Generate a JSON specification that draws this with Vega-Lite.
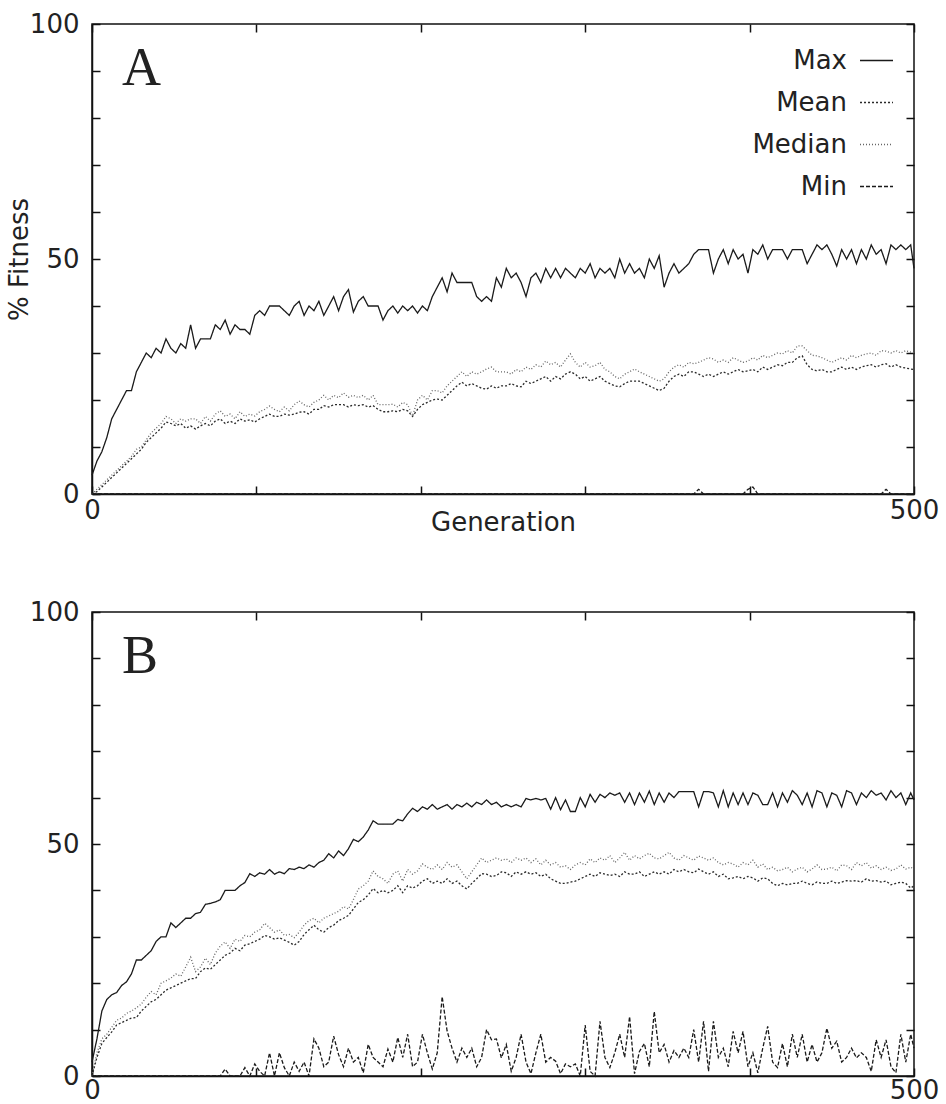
{
"$schema": "https://vega.github.io/schema/vega-lite/v6.json",
"background": "white",
"padding": {"left": 5, "top": 10, "right": 5, "bottom": 0},
"spacing": 62,
"config": {
  "font": "DejaVu Sans",
  "view": {"stroke": "#111", "strokeWidth": 1.5},
  "axis": {"grid": false, "domainColor": "#111", "domainWidth": 1.5, "tickColor": "#111", "tickWidth": 1.5, "tickSize": -8,
    "labelFont": "DejaVu Sans", "labelFontSize": 26, "labelColor": "#222", "labelFlush": false, "labelOverlap": false,
    "titleFont": "DejaVu Sans", "titleFontSize": 26, "titleFontWeight": "normal", "titleColor": "#222"},
  "title": {"anchor": "start", "frame": "group", "font": "Liberation Serif", "fontSize": 54, "fontWeight": "normal", "color": "#222", "baseline": "alphabetic", "offset": 0, "dx": 30, "dy": 89}
},
"datasets": {
"a": [
{"g":0,"Max":4,"Mean":0,"Median":0,"Min":0},
{"g":3,"Max":7,"Mean":0.5,"Median":1,"Min":0},
{"g":6,"Max":9,"Mean":1.5,"Median":2,"Min":0},
{"g":9,"Max":12,"Mean":2.5,"Median":3,"Min":0},
{"g":12,"Max":16,"Mean":3.5,"Median":4,"Min":0},
{"g":15,"Max":18,"Mean":4.5,"Median":5,"Min":0},
{"g":18,"Max":20,"Mean":5.5,"Median":6,"Min":0},
{"g":21,"Max":22,"Mean":6.5,"Median":7,"Min":0},
{"g":24,"Max":22,"Mean":7.5,"Median":8,"Min":0},
{"g":27,"Max":26,"Mean":8.5,"Median":9.5,"Min":0},
{"g":30,"Max":28,"Mean":9.5,"Median":10,"Min":0},
{"g":33,"Max":30,"Mean":11,"Median":11.5,"Min":0},
{"g":36,"Max":29,"Mean":12,"Median":13,"Min":0},
{"g":39,"Max":31,"Mean":13,"Median":14,"Min":0},
{"g":42,"Max":30,"Mean":14,"Median":15,"Min":0},
{"g":45,"Max":33,"Mean":15.3,"Median":16.5,"Min":0},
{"g":48,"Max":31,"Mean":15,"Median":16,"Min":0},
{"g":51,"Max":30,"Mean":14.5,"Median":15,"Min":0},
{"g":54,"Max":32,"Mean":15,"Median":16,"Min":0},
{"g":57,"Max":31,"Mean":14,"Median":15.5,"Min":0},
{"g":60,"Max":36,"Mean":14.5,"Median":16,"Min":0},
{"g":63,"Max":31,"Mean":13.8,"Median":16,"Min":0},
{"g":66,"Max":33,"Mean":14.5,"Median":15,"Min":0},
{"g":69,"Max":33,"Mean":15,"Median":16.5,"Min":0},
{"g":72,"Max":33,"Mean":14.5,"Median":15.5,"Min":0},
{"g":75,"Max":36,"Mean":15.5,"Median":17,"Min":0},
{"g":78,"Max":35,"Mean":16,"Median":17.7,"Min":0},
{"g":81,"Max":37,"Mean":15,"Median":16.5,"Min":0},
{"g":84,"Max":34,"Mean":15.5,"Median":17,"Min":0},
{"g":87,"Max":36,"Mean":15,"Median":16,"Min":0},
{"g":90,"Max":35,"Mean":16,"Median":17.5,"Min":0},
{"g":93,"Max":35,"Mean":15.5,"Median":16.5,"Min":0},
{"g":96,"Max":34,"Mean":15.8,"Median":17,"Min":0},
{"g":99,"Max":38,"Mean":15.3,"Median":16.6,"Min":0},
{"g":102,"Max":39,"Mean":16,"Median":17.5,"Min":0},
{"g":105,"Max":38,"Mean":16.5,"Median":18,"Min":0},
{"g":108,"Max":40,"Mean":17,"Median":18.7,"Min":0},
{"g":111,"Max":40,"Mean":16.5,"Median":18,"Min":0},
{"g":114,"Max":40,"Mean":16.5,"Median":17.5,"Min":0},
{"g":117,"Max":39,"Mean":17,"Median":18.5,"Min":0},
{"g":120,"Max":38,"Mean":16.8,"Median":17.7,"Min":0},
{"g":123,"Max":40,"Mean":17,"Median":19,"Min":0},
{"g":126,"Max":41,"Mean":17.4,"Median":19.8,"Min":0},
{"g":129,"Max":38,"Mean":17.5,"Median":19,"Min":0},
{"g":132,"Max":40,"Mean":17,"Median":18.5,"Min":0},
{"g":135,"Max":39,"Mean":18,"Median":19.5,"Min":0},
{"g":138,"Max":41,"Mean":18,"Median":20,"Min":0},
{"g":141,"Max":38,"Mean":18.8,"Median":21,"Min":0},
{"g":144,"Max":40,"Mean":18.5,"Median":20,"Min":0},
{"g":147,"Max":42,"Mean":19,"Median":21,"Min":0},
{"g":150,"Max":39,"Mean":19,"Median":20.5,"Min":0},
{"g":153,"Max":42,"Mean":19,"Median":21.5,"Min":0},
{"g":156,"Max":43.5,"Mean":18.5,"Median":20.6,"Min":0},
{"g":159,"Max":38.7,"Mean":19,"Median":21,"Min":0},
{"g":162,"Max":41,"Mean":18.8,"Median":20.5,"Min":0},
{"g":165,"Max":42,"Mean":19,"Median":21,"Min":0},
{"g":168,"Max":40,"Mean":18.5,"Median":20,"Min":0},
{"g":171,"Max":40,"Mean":18.8,"Median":21,"Min":0},
{"g":174,"Max":40,"Mean":18,"Median":19,"Min":0},
{"g":177,"Max":37,"Mean":17.5,"Median":19,"Min":0},
{"g":180,"Max":39,"Mean":17.5,"Median":19,"Min":0},
{"g":183,"Max":40,"Mean":17.7,"Median":19.1,"Min":0},
{"g":186,"Max":38.5,"Mean":17.5,"Median":18.5,"Min":0},
{"g":189,"Max":40,"Mean":18,"Median":19.5,"Min":0},
{"g":192,"Max":39,"Mean":17.7,"Median":19,"Min":0},
{"g":195,"Max":40,"Mean":16.5,"Median":16.6,"Min":0},
{"g":198,"Max":38.5,"Mean":18,"Median":20,"Min":0},
{"g":201,"Max":40,"Mean":19,"Median":21,"Min":0},
{"g":204,"Max":39,"Mean":19.5,"Median":20,"Min":0},
{"g":207,"Max":42,"Mean":20,"Median":22,"Min":0},
{"g":210,"Max":44,"Mean":20.2,"Median":22,"Min":0},
{"g":213,"Max":46,"Mean":20,"Median":21.5,"Min":0},
{"g":216,"Max":43,"Mean":21,"Median":23,"Min":0},
{"g":219,"Max":47,"Mean":22,"Median":24,"Min":0},
{"g":222,"Max":45,"Mean":23,"Median":25,"Min":0},
{"g":225,"Max":45,"Mean":23.8,"Median":26,"Min":0},
{"g":228,"Max":45,"Mean":23,"Median":25,"Min":0},
{"g":231,"Max":45,"Mean":23.5,"Median":26,"Min":0},
{"g":234,"Max":42,"Mean":23,"Median":25.5,"Min":0},
{"g":237,"Max":41,"Mean":22.5,"Median":26,"Min":0},
{"g":240,"Max":42,"Mean":22.3,"Median":26.6,"Min":0},
{"g":243,"Max":41,"Mean":23,"Median":27,"Min":0},
{"g":246,"Max":46,"Mean":22.5,"Median":26,"Min":0},
{"g":249,"Max":44,"Mean":23,"Median":26,"Min":0},
{"g":252,"Max":48,"Mean":23,"Median":26,"Min":0},
{"g":255,"Max":46,"Mean":23.5,"Median":25.5,"Min":0},
{"g":258,"Max":47,"Mean":23,"Median":26.5,"Min":0},
{"g":261,"Max":45,"Mean":22.8,"Median":26,"Min":0},
{"g":264,"Max":42,"Mean":24,"Median":27,"Min":0},
{"g":267,"Max":46,"Mean":23.5,"Median":26.5,"Min":0},
{"g":270,"Max":47,"Mean":24,"Median":27.5,"Min":0},
{"g":273,"Max":45,"Mean":24.5,"Median":27,"Min":0},
{"g":276,"Max":48,"Mean":25,"Median":28.3,"Min":0},
{"g":279,"Max":46,"Mean":24,"Median":27.5,"Min":0},
{"g":282,"Max":48,"Mean":25,"Median":28,"Min":0},
{"g":285,"Max":46,"Mean":24.5,"Median":27,"Min":0},
{"g":288,"Max":48,"Mean":25.5,"Median":28.5,"Min":0},
{"g":291,"Max":47,"Mean":26,"Median":29.8,"Min":0},
{"g":294,"Max":46,"Mean":25.5,"Median":28,"Min":0},
{"g":297,"Max":48,"Mean":24.5,"Median":27,"Min":0},
{"g":300,"Max":47,"Mean":25,"Median":28,"Min":0},
{"g":303,"Max":49,"Mean":24,"Median":27,"Min":0},
{"g":306,"Max":46,"Mean":24.5,"Median":27.3,"Min":0},
{"g":309,"Max":48,"Mean":25,"Median":28,"Min":0},
{"g":312,"Max":47,"Mean":24,"Median":26.5,"Min":0},
{"g":315,"Max":48,"Mean":23.5,"Median":26,"Min":0},
{"g":318,"Max":46,"Mean":23,"Median":25,"Min":0},
{"g":321,"Max":50,"Mean":22.8,"Median":24.5,"Min":0},
{"g":324,"Max":47,"Mean":23.5,"Median":25.5,"Min":0},
{"g":327,"Max":49,"Mean":24,"Median":26,"Min":0},
{"g":330,"Max":47,"Mean":24,"Median":26.6,"Min":0},
{"g":333,"Max":48,"Mean":24,"Median":26,"Min":0},
{"g":336,"Max":46,"Mean":23.5,"Median":25.5,"Min":0},
{"g":339,"Max":50,"Mean":23,"Median":25,"Min":0},
{"g":342,"Max":48,"Mean":22.5,"Median":24.5,"Min":0},
{"g":345,"Max":50.7,"Mean":22,"Median":24,"Min":0},
{"g":348,"Max":44,"Mean":22.5,"Median":24.5,"Min":0},
{"g":351,"Max":47,"Mean":24,"Median":26,"Min":0},
{"g":354,"Max":49,"Mean":25,"Median":27,"Min":0},
{"g":357,"Max":47,"Mean":25.5,"Median":27.5,"Min":0},
{"g":360,"Max":48,"Mean":25,"Median":27,"Min":0},
{"g":363,"Max":49,"Mean":26,"Median":28,"Min":0},
{"g":366,"Max":51,"Mean":26,"Median":27.7,"Min":0},
{"g":369,"Max":52,"Mean":25.5,"Median":28,"Min":1},
{"g":372,"Max":52,"Mean":25,"Median":28.5,"Min":0},
{"g":375,"Max":52,"Mean":25.5,"Median":29,"Min":0},
{"g":378,"Max":47,"Mean":25,"Median":28.7,"Min":0},
{"g":381,"Max":50,"Mean":25.5,"Median":28,"Min":0},
{"g":384,"Max":52,"Mean":26,"Median":28.5,"Min":0},
{"g":387,"Max":49,"Mean":25.5,"Median":28,"Min":0},
{"g":390,"Max":52,"Mean":26,"Median":29,"Min":0},
{"g":393,"Max":50,"Mean":26.5,"Median":28.5,"Min":0},
{"g":396,"Max":51,"Mean":26,"Median":28,"Min":0},
{"g":399,"Max":47,"Mean":26.2,"Median":28.3,"Min":1},
{"g":402,"Max":52,"Mean":26.5,"Median":29,"Min":1.5},
{"g":405,"Max":51,"Mean":26,"Median":28.5,"Min":0},
{"g":408,"Max":53,"Mean":27,"Median":29.5,"Min":0},
{"g":411,"Max":50,"Mean":26.5,"Median":29,"Min":0},
{"g":414,"Max":52,"Mean":27,"Median":29.5,"Min":0},
{"g":417,"Max":52,"Mean":27.5,"Median":30,"Min":0},
{"g":420,"Max":52,"Mean":27.3,"Median":29.8,"Min":0},
{"g":423,"Max":50,"Mean":28,"Median":30.5,"Min":0},
{"g":426,"Max":52,"Mean":28,"Median":30,"Min":0},
{"g":429,"Max":52,"Mean":29,"Median":31.5,"Min":0},
{"g":432,"Max":52,"Mean":29.4,"Median":31.5,"Min":0},
{"g":435,"Max":49,"Mean":27.5,"Median":30.5,"Min":0},
{"g":438,"Max":51,"Mean":26.5,"Median":29.5,"Min":0},
{"g":441,"Max":53,"Mean":26.2,"Median":29.4,"Min":0},
{"g":444,"Max":52,"Mean":26.5,"Median":29,"Min":0},
{"g":447,"Max":53,"Mean":26,"Median":28.5,"Min":0},
{"g":450,"Max":51,"Mean":26,"Median":28,"Min":0},
{"g":453,"Max":48.5,"Mean":26.5,"Median":28.5,"Min":0},
{"g":456,"Max":52,"Mean":27,"Median":29,"Min":0},
{"g":459,"Max":50,"Mean":26.5,"Median":28.5,"Min":0},
{"g":462,"Max":52,"Mean":27,"Median":29.5,"Min":0},
{"g":465,"Max":49,"Mean":26.5,"Median":29,"Min":0},
{"g":468,"Max":52,"Mean":27,"Median":29.5,"Min":0},
{"g":471,"Max":50,"Mean":27.3,"Median":29.8,"Min":0},
{"g":474,"Max":53,"Mean":27.5,"Median":30,"Min":0},
{"g":477,"Max":51,"Mean":27,"Median":29.5,"Min":0},
{"g":480,"Max":52,"Mean":27.5,"Median":30.5,"Min":0},
{"g":483,"Max":49,"Mean":27.7,"Median":30.4,"Min":1},
{"g":486,"Max":53,"Mean":27,"Median":30,"Min":0},
{"g":489,"Max":52,"Mean":27.5,"Median":30.5,"Min":0},
{"g":492,"Max":53,"Mean":27,"Median":30,"Min":0},
{"g":495,"Max":52,"Mean":26.8,"Median":30.5,"Min":0},
{"g":498,"Max":53,"Mean":26.6,"Median":30.2,"Min":0},
{"g":500,"Max":48,"Mean":26.5,"Median":30,"Min":0}
],
"b": [
{"g":0,"Max":3,"Mean":0,"Median":0,"Min":0},
{"g":3,"Max":8,"Mean":4,"Median":5,"Min":0},
{"g":6,"Max":14,"Mean":7,"Median":8,"Min":0},
{"g":9,"Max":16.5,"Mean":8.3,"Median":9,"Min":0},
{"g":12,"Max":17.5,"Mean":9.5,"Median":10.5,"Min":0},
{"g":15,"Max":18,"Mean":11,"Median":12,"Min":0},
{"g":18,"Max":19.5,"Mean":11.5,"Median":12.5,"Min":0},
{"g":21,"Max":20.3,"Mean":12,"Median":13.5,"Min":0},
{"g":24,"Max":22,"Mean":12.5,"Median":14,"Min":0},
{"g":27,"Max":25,"Mean":12.6,"Median":14.7,"Min":0},
{"g":30,"Max":25,"Mean":14,"Median":15.5,"Min":0},
{"g":33,"Max":26,"Mean":15,"Median":17,"Min":0},
{"g":36,"Max":27,"Mean":16,"Median":18.2,"Min":0},
{"g":39,"Max":29,"Mean":16.5,"Median":17.5,"Min":0},
{"g":42,"Max":30,"Mean":17.5,"Median":20,"Min":0},
{"g":45,"Max":30,"Mean":18.5,"Median":20.5,"Min":0},
{"g":48,"Max":33,"Mean":19,"Median":21.1,"Min":0},
{"g":51,"Max":32,"Mean":19.5,"Median":22,"Min":0},
{"g":54,"Max":33,"Mean":20,"Median":21.5,"Min":0},
{"g":57,"Max":34,"Mean":20.5,"Median":23.5,"Min":0},
{"g":60,"Max":34,"Mean":21,"Median":25.6,"Min":0},
{"g":63,"Max":35,"Mean":21,"Median":22.5,"Min":0},
{"g":66,"Max":35.3,"Mean":22.5,"Median":23.5,"Min":0},
{"g":69,"Max":37,"Mean":23.3,"Median":25.4,"Min":0},
{"g":72,"Max":37.2,"Mean":23,"Median":24,"Min":0},
{"g":75,"Max":37.5,"Mean":24,"Median":26.5,"Min":0},
{"g":78,"Max":38,"Mean":25,"Median":28,"Min":0},
{"g":81,"Max":40,"Mean":26,"Median":28.9,"Min":1.5},
{"g":84,"Max":40,"Mean":26.5,"Median":27.5,"Min":0},
{"g":87,"Max":40,"Mean":27.5,"Median":29.5,"Min":0},
{"g":90,"Max":41,"Mean":27,"Median":29,"Min":0},
{"g":93,"Max":41.7,"Mean":28.2,"Median":30.3,"Min":1.8},
{"g":96,"Max":43.6,"Mean":28.5,"Median":30,"Min":0},
{"g":99,"Max":43,"Mean":29,"Median":31,"Min":2.6},
{"g":102,"Max":43.8,"Mean":29.5,"Median":31.5,"Min":1},
{"g":105,"Max":43.5,"Mean":30.3,"Median":32.9,"Min":0},
{"g":108,"Max":44.5,"Mean":30,"Median":32,"Min":5},
{"g":111,"Max":43.5,"Mean":29.5,"Median":31,"Min":0},
{"g":114,"Max":44,"Mean":29.8,"Median":31.5,"Min":5},
{"g":117,"Max":43.6,"Mean":29.3,"Median":30.3,"Min":1.8},
{"g":120,"Max":44.7,"Mean":28.8,"Median":30.5,"Min":0},
{"g":123,"Max":44.5,"Mean":28.2,"Median":29.8,"Min":3},
{"g":126,"Max":45,"Mean":29,"Median":31,"Min":1},
{"g":129,"Max":44.7,"Mean":30.5,"Median":32.5,"Min":3},
{"g":132,"Max":45.5,"Mean":31.5,"Median":33.5,"Min":0},
{"g":135,"Max":45,"Mean":32.5,"Median":34,"Min":8},
{"g":138,"Max":46,"Mean":31.5,"Median":33,"Min":6},
{"g":141,"Max":46.5,"Mean":31,"Median":34,"Min":2},
{"g":144,"Max":47.9,"Mean":32,"Median":34.5,"Min":3},
{"g":147,"Max":47,"Mean":32.5,"Median":35,"Min":8.6},
{"g":150,"Max":48.5,"Mean":33.5,"Median":35.5,"Min":4.6},
{"g":153,"Max":47.5,"Mean":34,"Median":36.5,"Min":2},
{"g":156,"Max":49,"Mean":34.6,"Median":36,"Min":6},
{"g":159,"Max":51,"Mean":36,"Median":38,"Min":3},
{"g":162,"Max":50.5,"Mean":37.4,"Median":40.3,"Min":4},
{"g":165,"Max":51.5,"Mean":38,"Median":41,"Min":0.7},
{"g":168,"Max":53,"Mean":39,"Median":42,"Min":6.8},
{"g":171,"Max":55,"Mean":40.4,"Median":44.2,"Min":4},
{"g":174,"Max":54.3,"Mean":39.5,"Median":43,"Min":3},
{"g":177,"Max":54.3,"Mean":40,"Median":42.5,"Min":2},
{"g":180,"Max":54.3,"Mean":39.5,"Median":41.5,"Min":5.8},
{"g":183,"Max":54.3,"Mean":40,"Median":43.5,"Min":3},
{"g":186,"Max":55.3,"Mean":41,"Median":44.2,"Min":8.3},
{"g":189,"Max":55,"Mean":39.5,"Median":42,"Min":4},
{"g":192,"Max":56.5,"Mean":41,"Median":44.5,"Min":9},
{"g":195,"Max":57.7,"Mean":40.5,"Median":43.5,"Min":2},
{"g":198,"Max":57,"Mean":41,"Median":44.2,"Min":3},
{"g":201,"Max":58,"Mean":42,"Median":45.7,"Min":9},
{"g":204,"Max":57.5,"Mean":42.5,"Median":45,"Min":5},
{"g":207,"Max":58.5,"Mean":41.5,"Median":44.5,"Min":1.5},
{"g":210,"Max":57.5,"Mean":42,"Median":45.5,"Min":5},
{"g":213,"Max":58,"Mean":41.5,"Median":44.5,"Min":17.1},
{"g":216,"Max":58.5,"Mean":42.5,"Median":46,"Min":9.7},
{"g":219,"Max":57.5,"Mean":41.5,"Median":45,"Min":6},
{"g":222,"Max":58.5,"Mean":42,"Median":45.5,"Min":3},
{"g":225,"Max":58,"Mean":41,"Median":44,"Min":6},
{"g":228,"Max":58.8,"Mean":40.3,"Median":42.5,"Min":4},
{"g":231,"Max":58,"Mean":41.5,"Median":44,"Min":6},
{"g":234,"Max":59,"Mean":42.5,"Median":45.5,"Min":2},
{"g":237,"Max":58.5,"Mean":43.6,"Median":47,"Min":4},
{"g":240,"Max":59.5,"Mean":43.5,"Median":46,"Min":10},
{"g":243,"Max":58.5,"Mean":43,"Median":46.5,"Min":7.8},
{"g":246,"Max":59,"Mean":43.2,"Median":47,"Min":8},
{"g":249,"Max":58,"Mean":44,"Median":46.5,"Min":3.9},
{"g":252,"Max":58.5,"Mean":43.8,"Median":46.8,"Min":6.8},
{"g":255,"Max":58,"Mean":43,"Median":46,"Min":1},
{"g":258,"Max":58.5,"Mean":44,"Median":47,"Min":4},
{"g":261,"Max":58,"Mean":43.5,"Median":46.5,"Min":9},
{"g":264,"Max":59.8,"Mean":44,"Median":47,"Min":3},
{"g":267,"Max":59.5,"Mean":43.5,"Median":46,"Min":0.5},
{"g":270,"Max":59.8,"Mean":43.8,"Median":46.8,"Min":5},
{"g":273,"Max":59.5,"Mean":43,"Median":45.5,"Min":9},
{"g":276,"Max":59.8,"Mean":43.5,"Median":46.5,"Min":3},
{"g":279,"Max":57.5,"Mean":42.5,"Median":45.5,"Min":4},
{"g":282,"Max":60,"Mean":42,"Median":46,"Min":3.2},
{"g":285,"Max":57.4,"Mean":41.5,"Median":45,"Min":0.5},
{"g":288,"Max":59.5,"Mean":41.5,"Median":45.3,"Min":2.6},
{"g":291,"Max":57,"Mean":41.8,"Median":44.5,"Min":2},
{"g":294,"Max":57,"Mean":42,"Median":45.5,"Min":2.6},
{"g":297,"Max":60,"Mean":42.5,"Median":46,"Min":0},
{"g":300,"Max":58,"Mean":43,"Median":45.5,"Min":11},
{"g":303,"Max":60.7,"Mean":43.5,"Median":46.8,"Min":1},
{"g":306,"Max":59,"Mean":43,"Median":46,"Min":0},
{"g":309,"Max":60.7,"Mean":43.8,"Median":47,"Min":11.8},
{"g":312,"Max":60,"Mean":43.5,"Median":46.5,"Min":4},
{"g":315,"Max":61,"Mean":43.2,"Median":47.5,"Min":1.8},
{"g":318,"Max":60.5,"Mean":43.5,"Median":46,"Min":5},
{"g":321,"Max":61,"Mean":43,"Median":47,"Min":9},
{"g":324,"Max":59,"Mean":44,"Median":48.2,"Min":4},
{"g":327,"Max":61,"Mean":43.5,"Median":46.5,"Min":12.8},
{"g":330,"Max":58.5,"Mean":43.5,"Median":47.5,"Min":0.5},
{"g":333,"Max":61,"Mean":44,"Median":46.8,"Min":5.3},
{"g":336,"Max":59,"Mean":43,"Median":47.5,"Min":7},
{"g":339,"Max":61.4,"Mean":43.5,"Median":48,"Min":2},
{"g":342,"Max":58.5,"Mean":44,"Median":47,"Min":13.9},
{"g":345,"Max":61,"Mean":43.5,"Median":46.8,"Min":5},
{"g":348,"Max":59,"Mean":44,"Median":47.5,"Min":6.8},
{"g":351,"Max":61,"Mean":43.5,"Median":48.2,"Min":3},
{"g":354,"Max":60,"Mean":44.5,"Median":47,"Min":5.5},
{"g":357,"Max":61.3,"Mean":44,"Median":46.5,"Min":4},
{"g":360,"Max":61.3,"Mean":44.5,"Median":47.5,"Min":6},
{"g":363,"Max":61.3,"Mean":44,"Median":47,"Min":4},
{"g":366,"Max":61.3,"Mean":43.8,"Median":46.5,"Min":10},
{"g":369,"Max":58,"Mean":44.6,"Median":47.4,"Min":3},
{"g":372,"Max":61.3,"Mean":44,"Median":47,"Min":11.8},
{"g":375,"Max":61.3,"Mean":43.5,"Median":46.5,"Min":1},
{"g":378,"Max":61,"Mean":44,"Median":47,"Min":11.8},
{"g":381,"Max":58,"Mean":43,"Median":46,"Min":4},
{"g":384,"Max":61.5,"Mean":43.5,"Median":45.5,"Min":6},
{"g":387,"Max":58,"Mean":42.5,"Median":46,"Min":2},
{"g":390,"Max":61,"Mean":42.7,"Median":45.7,"Min":9.6},
{"g":393,"Max":58.5,"Mean":43,"Median":45,"Min":5},
{"g":396,"Max":61,"Mean":42.5,"Median":46,"Min":9.6},
{"g":399,"Max":58.5,"Mean":43,"Median":45.5,"Min":2},
{"g":402,"Max":61,"Mean":42.7,"Median":46.5,"Min":5},
{"g":405,"Max":60.5,"Mean":42,"Median":45,"Min":0.7},
{"g":408,"Max":58.5,"Mean":42.7,"Median":45.7,"Min":6},
{"g":411,"Max":58.5,"Mean":42.5,"Median":44.5,"Min":10.7},
{"g":414,"Max":61,"Mean":41.5,"Median":45,"Min":3},
{"g":417,"Max":58,"Mean":41,"Median":44.2,"Min":1.8},
{"g":420,"Max":61,"Mean":41.5,"Median":44.5,"Min":7},
{"g":423,"Max":59,"Mean":41.2,"Median":45,"Min":2},
{"g":426,"Max":61.5,"Mean":41.5,"Median":44,"Min":9},
{"g":429,"Max":60.5,"Mean":41.5,"Median":44.6,"Min":4},
{"g":432,"Max":58.5,"Mean":42,"Median":45,"Min":9},
{"g":435,"Max":61,"Mean":41.5,"Median":44,"Min":3},
{"g":438,"Max":58,"Mean":41.2,"Median":44.6,"Min":6.8},
{"g":441,"Max":61.5,"Mean":41.8,"Median":45.5,"Min":3},
{"g":444,"Max":61,"Mean":41.5,"Median":44.5,"Min":5},
{"g":447,"Max":58,"Mean":41.5,"Median":44.6,"Min":10.3},
{"g":450,"Max":61,"Mean":42,"Median":45,"Min":6},
{"g":453,"Max":60.5,"Mean":41.5,"Median":44.2,"Min":7.5},
{"g":456,"Max":58,"Mean":41.8,"Median":45.5,"Min":3},
{"g":459,"Max":61.5,"Mean":42.1,"Median":45.3,"Min":4},
{"g":462,"Max":61,"Mean":42,"Median":44.5,"Min":6},
{"g":465,"Max":58.5,"Mean":42.1,"Median":46,"Min":3.9},
{"g":468,"Max":61,"Mean":41.8,"Median":45.3,"Min":5},
{"g":471,"Max":60,"Mean":42.5,"Median":46,"Min":4},
{"g":474,"Max":61.5,"Mean":42,"Median":44.8,"Min":1},
{"g":477,"Max":60.5,"Mean":42.1,"Median":45.3,"Min":7.8},
{"g":480,"Max":61,"Mean":41.8,"Median":44.5,"Min":4},
{"g":483,"Max":59.5,"Mean":42,"Median":45,"Min":7.8},
{"g":486,"Max":61.5,"Mean":41.2,"Median":44.3,"Min":2},
{"g":489,"Max":60,"Mean":41.5,"Median":44.6,"Min":0.7},
{"g":492,"Max":61,"Mean":41.8,"Median":45.5,"Min":9},
{"g":495,"Max":58.5,"Mean":41.5,"Median":44.6,"Min":3},
{"g":498,"Max":61,"Mean":40.5,"Median":45,"Min":9},
{"g":500,"Max":59.5,"Mean":41,"Median":44.6,"Min":6}
]
},
"vconcat": [
{
  "width": 822, "height": 470,
  "data": {"name": "a"},
  "title": {"text": "A"},
  "transform": [{"fold": ["Max", "Mean", "Median", "Min"], "as": ["series", "value"]}],
  "layer": [
    {
      "mark": {"type": "line", "strokeWidth": 1.3},
      "encoding": {
        "x": {"field": "g", "type": "quantitative", "scale": {"domain": [0, 500], "nice": false},
          "axis": {"orient": "bottom", "values": [0, 100, 200, 300, 400, 500], "labelExpr": "datum.value == 0 || datum.value == 500 ? datum.label : ''", "labelPadding": 11, "title": "Generation", "titlePadding": -14}},
        "y": {"field": "value", "type": "quantitative", "scale": {"domain": [0, 100], "nice": false},
          "axis": {"orient": "left", "values": [0, 10, 20, 30, 40, 50, 60, 70, 80, 90, 100], "labelExpr": "datum.value % 50 == 0 ? datum.label : ''", "labelPadding": 21, "title": "% Fitness", "titlePadding": -3}},
        "color": {"field": "series", "type": "nominal",
          "scale": {"domain": ["Max", "Mean", "Median", "Min"], "range": ["#1a1a1a", "#2a2a2a", "#666666", "#1a1a1a"]},
          "legend": {"orient": "none", "legendX": 767, "legendY": 19, "title": null, "symbolType": "stroke", "symbolSize": 1089, "symbolStrokeWidth": 1.3, "labelAlign": "right", "labelOffset": -47, "labelFont": "DejaVu Sans", "labelFontSize": 26, "labelColor": "#222", "rowPadding": 11, "padding": 0}},
        "strokeDash": {"field": "series", "type": "nominal",
          "scale": {"domain": ["Max", "Mean", "Median", "Min"], "range": [[1, 0], [2, 2], [1, 2], [4, 2]]},
          "legend": {"orient": "none", "legendX": 767, "legendY": 19, "title": null, "symbolType": "stroke", "symbolSize": 1089, "symbolStrokeWidth": 1.3, "labelAlign": "right", "labelOffset": -47, "labelFont": "DejaVu Sans", "labelFontSize": 26, "labelColor": "#222", "rowPadding": 11, "padding": 0}}
      }
    },
    {
      "mark": {"type": "point", "opacity": 0},
      "encoding": {
        "x": {"field": "g", "type": "quantitative", "axis": {"orient": "top", "values": [0, 100, 200, 300, 400, 500], "labels": false, "domain": false, "title": null}},
        "y": {"field": "value", "type": "quantitative", "axis": {"orient": "right", "values": [0, 10, 20, 30, 40, 50, 60, 70, 80, 90, 100], "labels": false, "domain": false, "title": null}}
      }
    }
  ],
  "resolve": {"axis": {"x": "independent", "y": "independent"}}
},
{
  "width": 822, "height": 464,
  "data": {"name": "b"},
  "title": {"text": "B"},
  "transform": [{"fold": ["Max", "Mean", "Median", "Min"], "as": ["series", "value"]}],
  "layer": [
    {
      "mark": {"type": "line", "strokeWidth": 1.3},
      "encoding": {
        "x": {"field": "g", "type": "quantitative", "scale": {"domain": [0, 500], "nice": false},
          "axis": {"orient": "bottom", "values": [0, 100, 200, 300, 400, 500], "labelExpr": "datum.value == 0 || datum.value == 500 ? datum.label : ''", "labelPadding": 9, "title": null}},
        "y": {"field": "value", "type": "quantitative", "scale": {"domain": [0, 100], "nice": false},
          "axis": {"orient": "left", "values": [0, 10, 20, 30, 40, 50, 60, 70, 80, 90, 100], "labelExpr": "datum.value % 50 == 0 ? datum.label : ''", "labelPadding": 21, "title": null}},
        "color": {"field": "series", "type": "nominal",
          "scale": {"domain": ["Max", "Mean", "Median", "Min"], "range": ["#1a1a1a", "#2a2a2a", "#666666", "#1a1a1a"]}, "legend": null},
        "strokeDash": {"field": "series", "type": "nominal",
          "scale": {"domain": ["Max", "Mean", "Median", "Min"], "range": [[1, 0], [2, 2], [1, 2], [4, 2]]}, "legend": null}
      }
    },
    {
      "mark": {"type": "point", "opacity": 0},
      "encoding": {
        "x": {"field": "g", "type": "quantitative", "axis": {"orient": "top", "values": [0, 100, 200, 300, 400, 500], "labels": false, "domain": false, "title": null}},
        "y": {"field": "value", "type": "quantitative", "axis": {"orient": "right", "values": [0, 10, 20, 30, 40, 50, 60, 70, 80, 90, 100], "labels": false, "domain": false, "title": null}}
      }
    }
  ],
  "resolve": {"axis": {"x": "independent", "y": "independent"}}
}
],
"resolve": {"scale": {"color": "independent", "strokeDash": "independent"}, "legend": {"color": "independent", "strokeDash": "independent"}}
}
